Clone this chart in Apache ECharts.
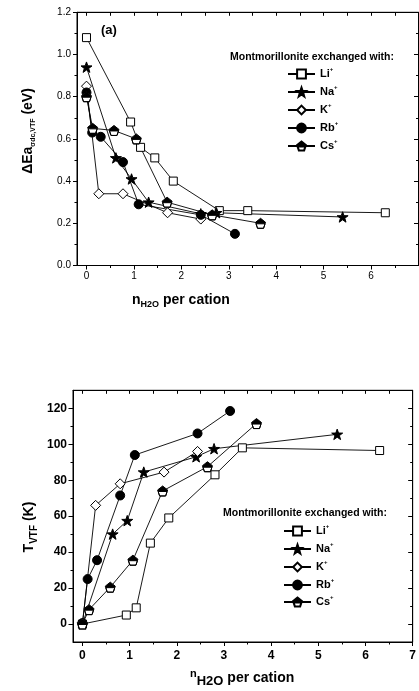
<!DOCTYPE html>
<html>
<head>
<meta charset="utf-8">
<script src="https://cdn.jsdelivr.net/npm/echarts@6/dist/echarts.min.js"></script>
<style>
html, body { margin: 0; padding: 0; background: #fff; overflow: hidden; }
.panel { position: absolute; left: 0; width: 419px; }
#top { top: 0; height: 345px; }
#bot { top: 345px; height: 346px; }
</style>
</head>
<body>
<div id="top" class="panel"></div>
<div id="bot" class="panel"></div>
<script>
// (a) activation energy difference vs water per cation
var eaLiX = [0, 0.93, 1.14, 1.44, 1.83, 2.80, 3.40, 6.30];
var eaLiY = [1.08, 0.68, 0.56, 0.51, 0.40, 0.26, 0.26, 0.25];
var eaNaX = [0, 0.62, 0.95, 1.31, 2.41, 2.74, 5.40];
var eaNaY = [0.94, 0.51, 0.41, 0.30, 0.245, 0.25, 0.23];
var eaKX = [0, 0.26, 0.77, 1.71, 2.41];
var eaKY = [0.85, 0.34, 0.34, 0.25, 0.22];
var eaRbX = [0, 0.12, 0.30, 0.77, 1.10, 2.41, 3.13];
var eaRbY = [0.82, 0.63, 0.61, 0.49, 0.29, 0.24, 0.15];
var eaCsX = [0, 0.13, 0.58, 1.05, 1.70, 2.65, 3.67];
var eaCsY = [0.80, 0.65, 0.64, 0.60, 0.30, 0.24, 0.20];

// (b) VTF temperature vs water per cation
var tLiX = [0, 0.93, 1.14, 1.44, 1.83, 2.81, 3.39, 6.30];
var tLiY = [0, 5, 9, 45, 59, 83, 98, 96.5];
var tNaX = [0, 0.64, 0.95, 1.30, 2.41, 2.79, 5.40];
var tNaY = [0, 50, 57.5, 84.5, 93, 97.5, 105.5];
var tKX = [0, 0.28, 0.80, 1.73, 2.44];
var tKY = [0, 66, 78, 84.5, 96];
var tRbX = [0, 0.11, 0.31, 0.80, 1.11, 2.44, 3.13];
var tRbY = [0.5, 25, 35.5, 71.5, 94, 106, 118.5];
var tCsX = [0, 0.14, 0.59, 1.07, 1.70, 2.65, 3.69];
var tCsY = [0, 8, 20.5, 35.5, 74, 87.5, 111.5];

var cations = ['Li', 'Na', 'K', 'Rb', 'Cs'];

// tick positions
var eaXMajor = [0, 1, 2, 3, 4, 5, 6];
var eaXMinor = [0.5, 1.5, 2.5, 3.5, 4.5, 5.5, 6.5];
var eaYMajor = [0, 0.2, 0.4, 0.6, 0.8, 1.0, 1.2];
var eaYLabels = ['0.0', '0.2', '0.4', '0.6', '0.8', '1.0', '1.2'];
var eaYMinor = [0.1, 0.3, 0.5, 0.7, 0.9, 1.1];
var tXMajor = [0, 1, 2, 3, 4, 5, 6, 7];
var tXMinor = [0.5, 1.5, 2.5, 3.5, 4.5, 5.5, 6.5];
var tYMajor = [0, 20, 40, 60, 80, 100, 120];
var tYMinor = [10, 30, 50, 70, 90, 110];

var font = "'Liberation Sans', Arial, Helvetica, sans-serif";
var black = '#000';

var starPath = 'path://M0,-10L2.35,-3.24L9.51,-3.09L3.8,1.24L5.88,8.09L0,4L-5.88,8.09L-3.8,1.24L-9.51,-3.09L-2.35,-3.24Z';
var diamondPath = 'path://M5,0L10,5L5,10L0,5Z';
// half filled pentagon: filled top, bottom half drawn as zero-area outline
var csPath = 'path://M5,0L10,4L9.5,5.5L0.5,5.5L0,4ZM9.5,5.5L8,10L2,10L0.5,5.5L2,10L8,10Z';
var pentPath = 'path://M5,0L10,4L8,10L2,10L0,4Z';

var markers = {
    Li: {symbol: 'rect', size: 8, fill: '#fff'},
    Na: {symbol: starPath, size: 11, fill: black},
    K: {symbol: diamondPath, size: 10, fill: '#fff'},
    Rb: {symbol: 'circle', size: 9, fill: black},
    Cs: {symbol: csPath, size: 10, fill: black}
};

function pairs(xs, ys) {
    var out = [];
    for (var i = 0; i < xs.length; i++) {
        out.push([xs[i], ys[i]]);
    }
    return out;
}

function lineSeries(name, data, m) {
    return {
        type: 'line',
        name: name,
        data: data,
        symbol: m.symbol,
        symbolSize: m.size,
        symbolKeepAspect: true,
        showAllSymbol: true,
        clip: false,
        lineStyle: {color: black, width: 0.9},
        itemStyle: {color: m.fill, borderColor: black, borderWidth: 1},
        emphasis: {disabled: true},
        animation: false
    };
}

function chartSeries(sets) {
    var out = [];
    for (var i = 0; i < cations.length; i++) {
        var c = cations[i];
        var data = pairs(sets[c][0], sets[c][1]);
        if (c === 'Cs') {
            // white body under the half filled marker
            out.push({
                type: 'line', name: 'Cs_bg', data: data,
                symbol: pentPath, symbolSize: 10, symbolKeepAspect: true, clip: false,
                lineStyle: {width: 0}, itemStyle: {color: '#fff', borderWidth: 0},
                emphasis: {disabled: true}, animation: false
            });
        }
        out.push(lineSeries(c, data, markers[c]));
    }
    return out;
}

var eaSets = {
    Li: [eaLiX, eaLiY], Na: [eaNaX, eaNaY], K: [eaKX, eaKY], Rb: [eaRbX, eaRbY], Cs: [eaCsX, eaCsY]
};
var tSets = {
    Li: [tLiX, tLiY], Na: [tNaX, tNaY], K: [tKX, tKY], Rb: [tRbX, tRbY], Cs: [tCsX, tCsY]
};

// safe one-decimal labels: never throws whatever the formatter is handed
function oneDecimal(v) {
    var n = typeof v === 'number' ? v : parseFloat(v);
    if (isNaN(n)) {
        return '';
    }
    var k = eaYMajor.indexOf(Math.round(n * 10) / 10);
    return k >= 0 ? eaYLabels[k] : String(n);
}

function axis(min, max, pos, ticks, len, inside, showLine, labelStyle) {
    var a = {
        type: 'value',
        min: min,
        max: max,
        position: pos,
        axisLine: {show: showLine, onZero: false, lineStyle: {color: black, width: 1}},
        axisTick: {show: true, inside: inside, length: len, customValues: ticks,
            lineStyle: {color: black, width: 1}},
        axisLabel: {show: false},
        splitLine: {show: false}
    };
    if (labelStyle) {
        a.axisLabel = labelStyle;
        a.axisLabel.customValues = ticks;
    }
    return a;
}

// one legend per entry so each row sits where the reference has it
var legendRich = {
    n: {fontFamily: font, fontSize: 11, fontWeight: 'bold', color: black, lineHeight: 16, verticalAlign: 'middle'},
    s: {fontFamily: font, fontSize: 6, fontWeight: 'bold', color: black, verticalAlign: 'top'}
};
function legendRows(left, centers) {
    var out = [];
    for (var i = 0; i < cations.length; i++) {
        out.push({
            data: [cations[i]],
            left: left,
            top: centers[i] - 8,
            padding: 0,
            itemWidth: 27,
            itemHeight: 11,
            selectedMode: false,
            formatter: '{n|{name}}{s|+}',
            textStyle: {fontFamily: font, fontSize: 11, fontWeight: 'bold', color: black, rich: legendRich}
        });
    }
    return out;
}

function textEl(x, y, text, rich, align, rot) {
    return {
        type: 'text',
        x: x,
        y: y,
        rotation: rot || 0,
        silent: true,
        style: {text: text, align: align || 'center', verticalAlign: 'middle', rich: rich,
            font: 'bold 12px ' + font, fill: black}
    };
}

var legendTitle = {t: {fontFamily: font, fontSize: 10.5, fontWeight: 'bold', color: black}};

// top panel: activation energy
var topChart = echarts.init(document.getElementById('top'));
topChart.setOption({
    backgroundColor: '#fff',
    animation: false,
    grid: {left: 77, top: 12.3, width: 341.5, height: 253.2,
        show: true, borderColor: black, borderWidth: 1},
    xAxis: [
        axis(-0.2, 7, 'bottom', eaXMajor, 4, false, true,
            {show: true, margin: 6, fontFamily: font, fontSize: 10, color: black}),
        axis(-0.2, 7, 'bottom', eaXMinor, 2.5, false, false),
        axis(-0.2, 7, 'top', eaXMajor.concat(eaXMinor), 3.5, true, true)
    ],
    yAxis: [
        axis(0, 1.2, 'left', eaYMajor, 4, false, true,
            {show: true, margin: 6, fontFamily: font, fontSize: 10, color: black, formatter: oneDecimal}),
        axis(0, 1.2, 'left', eaYMinor, 2.5, false, false),
        axis(0, 1.2, 'right', eaYMajor, 4.5, true, true),
        axis(0, 1.2, 'right', eaYMinor, 2.5, true, false)
    ],
    legend: legendRows(287, [74, 92, 110, 128, 146]),
    graphic: [
        textEl(312, 57, '{t|Montmorillonite exchanged with:}', legendTitle),
        textEl(101, 30, '{t|(a)}',
            {t: {fontFamily: font, fontSize: 13, fontWeight: 'bold', color: black}}, 'left'),
        textEl(28, 131, '{m|\u0394Ea}{s|\u03c3dc,VTF}{m| (eV)}', {
            m: {fontFamily: font, fontSize: 14, fontWeight: 'bold', color: black, lineHeight: 18, verticalAlign: 'middle'},
            s: {fontFamily: font, fontSize: 7, fontWeight: 'bold', color: black, verticalAlign: 'bottom'}
        }, 'center', Math.PI / 2),
        textEl(132, 300, '{m|n}{s|H2O}{m| per cation}', {
            m: {fontFamily: font, fontSize: 14, fontWeight: 'bold', color: black, lineHeight: 19, verticalAlign: 'middle'},
            s: {fontFamily: font, fontSize: 9, fontWeight: 'bold', color: black, verticalAlign: 'bottom'}
        }, 'left')
    ],
    series: chartSeries(eaSets)
});

// bottom panel: VTF temperature (y positions relative to its own box, which starts at 345)
var botChart = echarts.init(document.getElementById('bot'));
botChart.setOption({
    backgroundColor: '#fff',
    animation: false,
    grid: {left: 73, top: 45.3, width: 341.3, height: 251.7,
        show: true, borderColor: black, borderWidth: 1},
    xAxis: [
        axis(-0.2, 7, 'bottom', tXMajor, 4, false, true,
            {show: true, margin: 8, fontFamily: font, fontSize: 12, fontWeight: 'bold', color: black}),
        axis(-0.2, 7, 'bottom', tXMinor, 2.5, false, false),
        axis(-0.2, 7, 'top', tXMajor.concat(tXMinor), 3.5, true, true)
    ],
    yAxis: [
        axis(-10, 130, 'left', tYMajor, 4.5, false, true,
            {show: true, margin: 6, fontFamily: font, fontSize: 12, fontWeight: 'bold', color: black}),
        axis(-10, 130, 'left', tYMinor, 2.5, false, false),
        axis(-10, 130, 'right', tYMajor, 4.5, true, true),
        axis(-10, 130, 'right', tYMinor, 2.5, true, false)
    ],
    legend: legendRows(283, [186, 204, 222, 240, 257]),
    graphic: [
        textEl(305, 168, '{t|Montmorillonite exchanged with:}', legendTitle),
        textEl(29, 182, '{m|T}{s|VTF}{m| (K)}', {
            m: {fontFamily: font, fontSize: 14, fontWeight: 'bold', color: black, lineHeight: 20, verticalAlign: 'middle'},
            s: {fontFamily: font, fontSize: 10, fontWeight: 'bold', color: black, verticalAlign: 'bottom'}
        }, 'center', Math.PI / 2),
        textEl(190, 333, '{n|n}{h|H2O}{p| per cation}', {
            n: {fontFamily: font, fontSize: 11, fontWeight: 'bold', color: black, verticalAlign: 'top'},
            h: {fontFamily: font, fontSize: 13, fontWeight: 'bold', color: black, verticalAlign: 'bottom'},
            p: {fontFamily: font, fontSize: 14, fontWeight: 'bold', color: black, lineHeight: 20, verticalAlign: 'middle'}
        }, 'left')
    ],
    series: chartSeries(tSets)
});
</script>
</body>
</html>
